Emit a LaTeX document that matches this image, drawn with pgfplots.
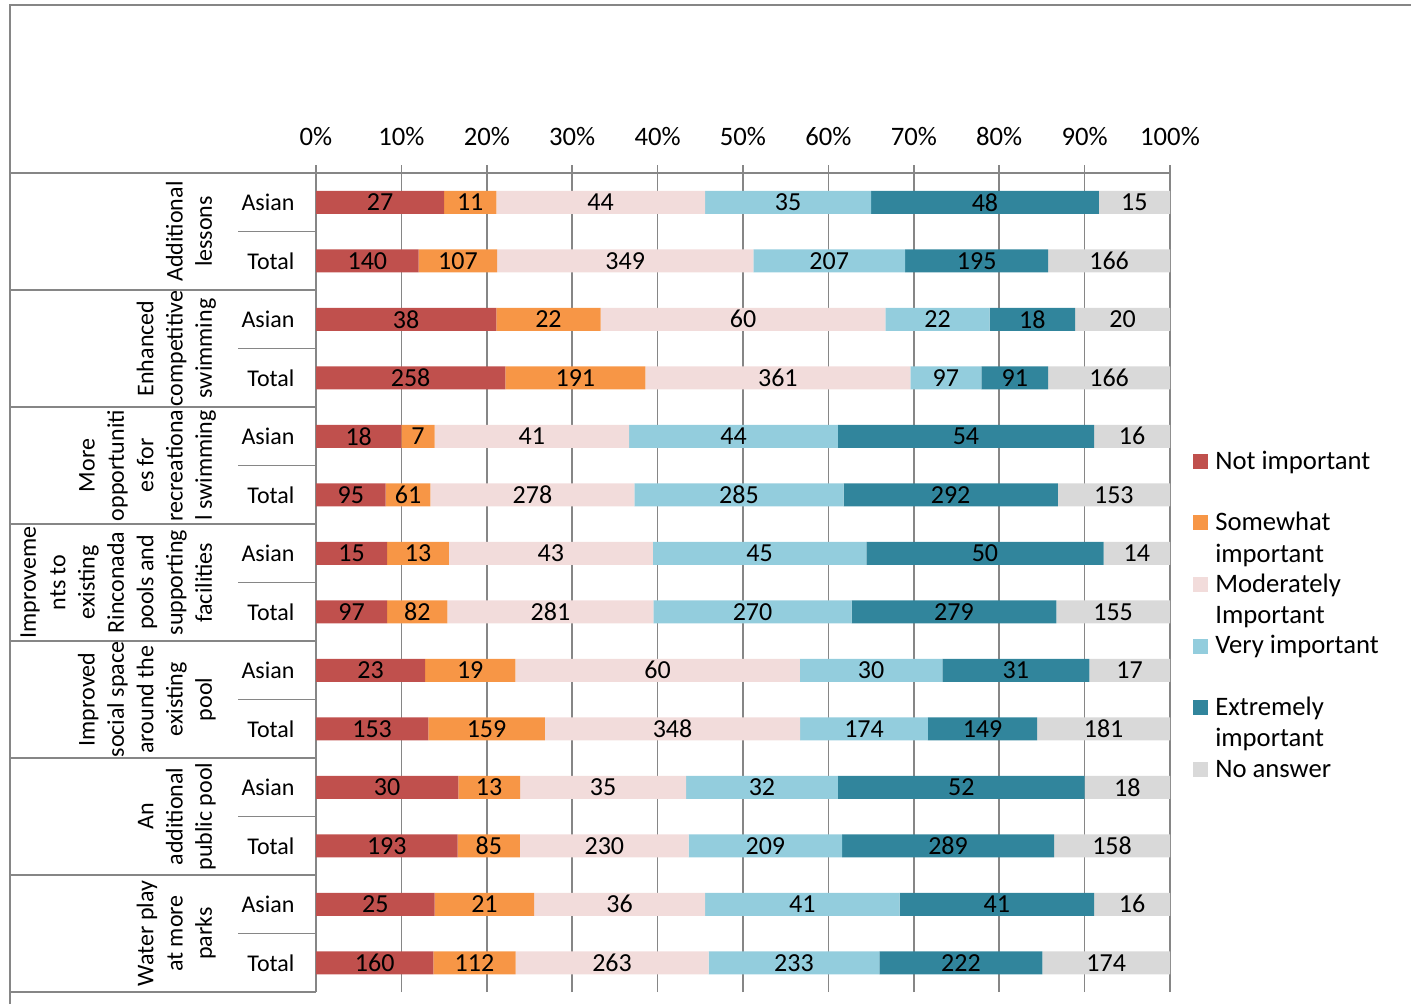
\documentclass[border=0pt]{standalone}
\usepackage{pgfplots}
\pgfplotsset{compat=1.18}
\usepackage{pgfplotstable}
\usepackage{fontspec}
\setmainfont{Carlito}
\definecolor{cNot}{HTML}{C0504D}
\definecolor{cSome}{HTML}{F79646}
\definecolor{cMod}{HTML}{F2DCDB}
\definecolor{cVery}{HTML}{93CDDD}
\definecolor{cExt}{HTML}{31859C}
\definecolor{cNo}{HTML}{D9D9D9}
\definecolor{gridc}{HTML}{868686}

\pgfplotstableread{
y a b c d e f
13 27 11 44 35 48 15
12 140 107 349 207 195 166
11 38 22 60 22 18 20
10 258 191 361 97 91 166
9 18 7 41 44 54 16
8 95 61 278 285 292 153
7 15 13 43 45 50 14
6 97 82 281 270 279 155
5 23 19 60 30 31 17
4 153 159 348 174 149 181
3 30 13 35 32 52 18
2 193 85 230 209 289 158
1 25 21 36 41 41 16
0 160 112 263 233 222 174
}\data

\newcommand{\pct}[1]{100*\thisrow{#1}/(\thisrow{a}+\thisrow{b}+\thisrow{c}+\thisrow{d}+\thisrow{e}+\thisrow{f})}
\newcommand{\catfont}{\fontsize{18}{21}\selectfont}
\newcommand{\tickfont}{\fontsize{20}{24}\selectfont}
\newcommand{\barfont}{\fontsize{19.5}{23}\selectfont}
\newcommand{\grpfont}{\fontsize{18}{22}\selectfont}

\begin{document}
\begin{tikzpicture}
\path[use as bounding box] (0,0) rectangle (1058.25pt,-753pt);
\begin{axis}[
  at={(237pt,-129.75pt)}, anchor=north west,
  scale only axis, width=640.5pt, height=614.25pt,
  xbar stacked, bar width=17.25pt,
  xmin=0, xmax=100, ymin=-0.5, ymax=13.5,
  axis x line*=top, axis y line*=left,
  axis line style={gridc, line width=1.1pt},
  xtick={0,10,...,100},
  xticklabel={\pgfmathprintnumber{\tick}\%},
  /pgf/number format/assume math mode=true,
  xmajorgrids, major grid style={gridc, line width=1.1pt},
  tick align=outside, major tick length=6pt,
  xtick style={gridc, line width=1.1pt},
  ytick={0,...,13},
  yticklabels={Total,Asian,Total,Asian,Total,Asian,Total,Asian,Total,Asian,Total,Asian,Total,Asian},
  ytick style={draw=none},
  yticklabel style={font=\catfont, text=black, anchor=east, inner sep=0pt, xshift=-10pt},
  xticklabel style={font=\tickfont, text=black, anchor=base, inner sep=0pt, yshift=14.6pt},
  point meta=explicit,
  nodes near coords={\pgfmathprintnumber{\pgfplotspointmeta}},
  every node near coord/.append style={font=\barfont, text=black, anchor=center},
  legend style={at={(rel axis cs:1.0269,0.6685)}, anchor=north west, draw=none,
    inner sep=0pt, outer sep=0pt, row sep=0.75pt, column sep=3.5pt,
    font=\fontsize{20}{23.5}\selectfont,
    cells={anchor=base west, align=left, inner sep=0pt}},
  legend cell align=left,
  legend image code/.code={\fill[#1] (0pt,4.5pt) rectangle (11.25pt,15.75pt);},
]
\addplot[fill=cNot, draw=none] table[x expr={\pct{a}}, y=y, meta=a] {\data};
\addplot[fill=cSome, draw=none] table[x expr={\pct{b}}, y=y, meta=b] {\data};
\addplot[fill=cMod, draw=none] table[x expr={\pct{c}}, y=y, meta=c] {\data};
\addplot[fill=cVery, draw=none] table[x expr={\pct{d}}, y=y, meta=d] {\data};
\addplot[fill=cExt, draw=none] table[x expr={\pct{e}}, y=y, meta=e] {\data};
\addplot[fill=cNo, draw=none] table[x expr={\pct{f}}, y=y, meta=f] {\data};
\addlegendentry{\strut Not important\\\strut}
\addlegendentry{\strut Somewhat\\\strut important}
\addlegendentry{\strut Moderately\\\strut Important}
\addlegendentry{\strut Very important\\\strut}
\addlegendentry{\strut Extremely\\\strut important}
\addlegendentry{\strut No answer\\\strut}
\end{axis}
\begin{scope}[x=0.75pt,y=-0.75pt]
\draw[gridc, line width=1.1pt] (10,1004) -- (10,5) -- (1411,5);
\foreach \yy in {173,290,407,524,641,758,875,992}
  \draw[gridc, line width=1.1pt] (10,\yy) -- (316,\yy);
\foreach \yy in {231.5,348.5,465.5,582.5,699.5,816.5,933.5}
  \draw[gridc, line width=1.1pt] (238,\yy) -- (316,\yy);
\tikzset{grp/.style={rotate=90, anchor=south, align=center, font=\grpfont, inner sep=0pt}}
\node[grp] at (221,231.5) {Additional\\\strut lessons};
\node[grp] at (221,348.5) {Enhanced\\competitive\\\strut swimming};
\node[grp] at (221,465.5) {More\\opportuniti\\es for\\recreationa\\\strut l swimming};
\node[grp] at (221,582.5) {Improveme\\nts to\\existing\\Rinconada\\pools and\\supporting\\\strut facilities};
\node[grp] at (221,699.5) {Improved\\social space\\around the\\existing\\\strut pool};
\node[grp] at (221,816.5) {An\\additional\\\strut public pool};
\node[grp] at (221,933.5) {Water play\\at more\\\strut parks};
\end{scope}
\end{tikzpicture}
\end{document}
